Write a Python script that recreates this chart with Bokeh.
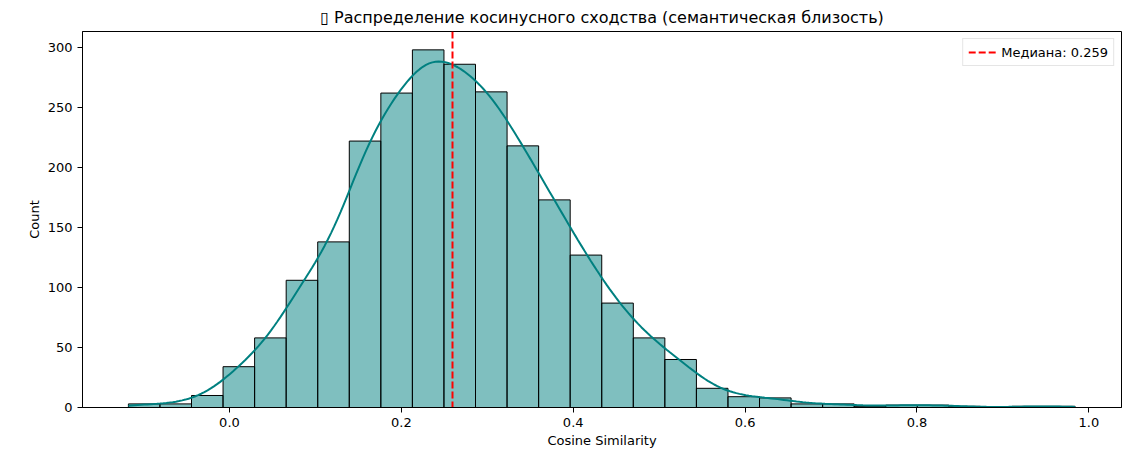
from bokeh.plotting import figure
from bokeh.models import FixedTicker, NumeralTickFormatter, Range1d
from bokeh.embed import file_html
from bokeh.resources import INLINE
import numpy as np

# histogram data (30 bins between min and max similarity)
sim_min = -0.1176
sim_max = 0.984
counts = [3, 3, 10, 34, 58, 106, 138, 222, 262, 298,
          286, 263, 218, 173, 127, 87, 58, 40, 16, 9,
          8, 3, 3, 1, 2, 2, 1, 0, 1, 1]
median_val = 0.259
x_ticks = [0.0, 0.2, 0.4, 0.6, 0.8, 1.0]
y_ticks = [0, 50, 100, 150, 200, 250, 300]

title = "\u25af Распределение косинусного сходства (семантическая близость)"
font = "DejaVu Sans"

edges = np.linspace(sim_min, sim_max, len(counts) + 1)
centers = (edges[:-1] + edges[1:]) / 2
bin_w = edges[1] - edges[0]
w = np.array(counts, dtype=float)
n = w.sum()

# gaussian kde (scott) from the binned data, scaled to counts
mean = (centers * w).sum() / n
var = ((centers - mean) ** 2 * w).sum() / n - bin_w ** 2 / 12
bw = np.sqrt(var) * n ** (-1 / 5)
xs = np.linspace(sim_min, sim_max, 300)
dens = (w[None, :] * np.exp(-0.5 * ((xs[:, None] - centers[None, :]) / bw) ** 2)).sum(axis=1)
dens = dens / (n * bw * np.sqrt(2 * np.pi))
kde_y = dens * n * bin_w

p = figure(frame_width=1039, frame_height=376, output_backend="svg", toolbar_location=None,
           x_range=Range1d(-0.171, 1.038), y_range=Range1d(0, 313.3),
           min_border_left=82, min_border_right=2, min_border_top=12, min_border_bottom=5,
           title=title)

p.title.align = "center"
p.title.text_font = font
p.title.text_font_size = "16px"
p.title.text_font_style = "normal"
p.title.text_color = "black"

p.quad(left=edges[:-1], right=edges[1:], bottom=0, top=counts,
       fill_color="#008080", fill_alpha=0.5, line_color="black", line_width=1)
p.line(xs, kde_y, line_color="#008080", line_width=2)
p.vspan(x=[median_val], line_color="red", line_width=2, line_dash="7 3",
        legend_label=f"Медиана: {median_val:.3f}")

p.xgrid.grid_line_color = None
p.ygrid.grid_line_color = None
p.outline_line_color = "black"
p.outline_line_alpha = 1

p.xaxis.ticker = FixedTicker(ticks=x_ticks)
p.xaxis.formatter = NumeralTickFormatter(format="0.0")
p.yaxis.ticker = FixedTicker(ticks=y_ticks)
p.xaxis.axis_label = "Cosine Similarity"
p.yaxis.axis_label = "Count"

for ax in [p.xaxis[0], p.yaxis[0]]:
    ax.axis_line_color = "black"
    ax.major_tick_line_color = "black"
    ax.major_tick_out = 5
    ax.major_tick_in = 0
    ax.minor_tick_line_color = None
    ax.major_label_text_font = font
    ax.major_label_text_font_size = "13px"
    ax.major_label_text_color = "black"
    ax.axis_label_text_font = font
    ax.axis_label_text_font_size = "13px"
    ax.axis_label_text_font_style = "normal"
    ax.axis_label_text_color = "black"
p.xaxis.axis_label_standoff = 3
p.yaxis.axis_label_standoff = 3

p.legend.location = "top_right"
p.legend.label_text_font = font
p.legend.label_text_font_size = "13px"
p.legend.label_text_color = "black"
p.legend.border_line_color = "#cccccc"
p.legend.glyph_width = 28
p.legend.glyph_height = 16
p.legend.padding = 5
p.legend.margin = 7
p.legend.spacing = 0

open("out.html", "w").write(file_html(p, INLINE))
